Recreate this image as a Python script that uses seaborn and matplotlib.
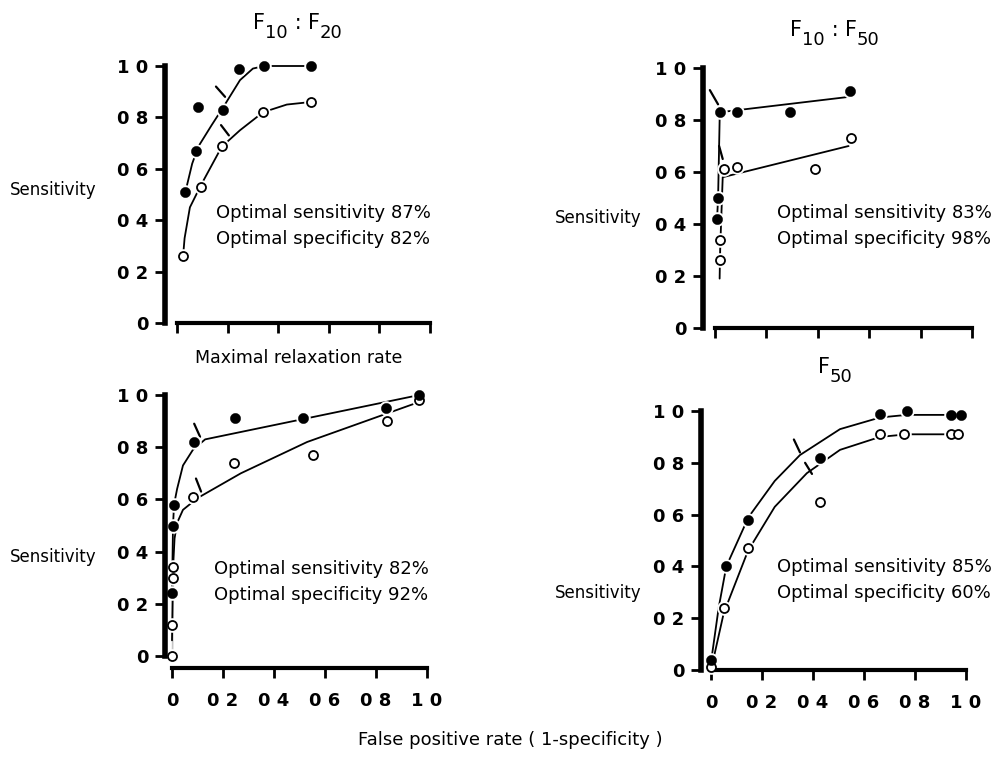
import matplotlib
matplotlib.use("Agg")
import matplotlib.pyplot as plt
import seaborn as sns
import pandas as pd

# ──────────────────────────────
# Data
# ──────────────────────────────

# F10:F20 (top left)
tl_filled_x = [0.03, 0.075, 0.083, 0.182, 0.245, 0.344, 0.53]
tl_filled_y = [0.51, 0.67, 0.84, 0.83, 0.99, 1.0, 1.0]
tl_open_x = [0.024, 0.095, 0.178, 0.34, 0.53]
tl_open_y = [0.26, 0.53, 0.69, 0.82, 0.86]
tl_fit_filled_x = [0.03, 0.038, 0.06, 0.084, 0.137, 0.183, 0.249, 0.30, 0.345, 0.53]
tl_fit_filled_y = [0.50, 0.53, 0.62, 0.686, 0.77, 0.84, 0.945, 0.99, 1.0, 1.0]
tl_fit_open_x = [0.024, 0.03, 0.051, 0.095, 0.177, 0.249, 0.34, 0.434, 0.53]
tl_fit_open_y = [0.26, 0.33, 0.45, 0.537, 0.686, 0.75, 0.82, 0.85, 0.86]
tl_marks = [((0.154, 0.92), (0.19, 0.88)), ((0.174, 0.77), (0.205, 0.73))]

# F10:F50 (top right)
tr_filled_x = [0.008, 0.01, 0.02, 0.086, 0.29, 0.525]
tr_filled_y = [0.42, 0.50, 0.83, 0.83, 0.83, 0.91]
tr_open_x = [0.02, 0.02, 0.035, 0.086, 0.39, 0.53]
tr_open_y = [0.26, 0.34, 0.61, 0.62, 0.61, 0.73]
tr_fit_filled_x = [0.008, 0.012, 0.018, 0.02, 0.53]
tr_fit_filled_y = [0.42, 0.50, 0.80, 0.83, 0.89]
tr_fit_open_x = [0.018, 0.02, 0.02, 0.03, 0.52]
tr_fit_open_y = [0.19, 0.26, 0.34, 0.58, 0.70]
tr_marks = [((-0.02, 0.915), (0.012, 0.86)), ((0.016, 0.70), (0.03, 0.65))]

# Maximal relaxation rate (bottom left)
bl_filled_x = [0.0, 0.004, 0.008, 0.086, 0.247, 0.513, 0.84, 0.97]
bl_filled_y = [0.24, 0.50, 0.58, 0.82, 0.91, 0.91, 0.95, 1.0]
bl_open_x = [0.0, 0.0, 0.004, 0.004, 0.082, 0.243, 0.553, 0.843, 0.97]
bl_open_y = [0.0, 0.12, 0.30, 0.34, 0.61, 0.74, 0.77, 0.90, 0.98]
bl_fit_filled_x = [0.0, 0.004, 0.008, 0.02, 0.043, 0.082, 0.13, 0.97]
bl_fit_filled_y = [0.24, 0.50, 0.58, 0.64, 0.73, 0.79, 0.83, 1.0]
bl_fit_open_x = [0.0, 0.0, 0.004, 0.004, 0.01, 0.02, 0.043, 0.10, 0.27, 0.53, 0.96]
bl_fit_open_y = [0.0, 0.12, 0.30, 0.37, 0.45, 0.51, 0.56, 0.605, 0.70, 0.82, 0.97]
bl_marks = [((0.087, 0.89), (0.11, 0.84)), ((0.094, 0.68), (0.114, 0.63))]

# F50 (bottom right)
br_filled_x = [0.0, 0.06, 0.147, 0.427, 0.663, 0.768, 0.94, 0.98]
br_filled_y = [0.04, 0.40, 0.58, 0.82, 0.99, 1.0, 0.985, 0.985]
br_open_x = [0.0, 0.05, 0.145, 0.427, 0.663, 0.757, 0.94, 0.97]
br_open_y = [0.01, 0.24, 0.47, 0.65, 0.91, 0.91, 0.91, 0.91]
br_fit_filled_x = [0.0, 0.03, 0.06, 0.147, 0.25, 0.349, 0.506, 0.663, 0.768, 0.94]
br_fit_filled_y = [0.03, 0.24, 0.40, 0.59, 0.73, 0.83, 0.93, 0.975, 0.985, 0.985]
br_fit_open_x = [0.0, 0.05, 0.145, 0.25, 0.376, 0.506, 0.663, 0.768, 0.97]
br_fit_open_y = [0.0, 0.22, 0.46, 0.63, 0.76, 0.85, 0.90, 0.91, 0.91]
br_marks = [((0.325, 0.89), (0.349, 0.84)), ((0.369, 0.80), (0.396, 0.757))]

y_ticks = [0, 0.2, 0.4, 0.6, 0.8, 1.0]
y_tick_labels = ["0", "0 2", "0 4", "0 6", "0 8", "1 0"]
x_ticks = [0, 0.2, 0.4, 0.6, 0.8, 1.0]
x_tick_labels = ["0", "0 2", "0 4", "0 6", "0 8", "1 0"]

# titles as (text, is_subscript) pieces
title_tl = [("F", False), ("10", True), (" : ", False), ("F", False), ("20", True)]
title_tr = [("F", False), ("10", True), (" : ", False), ("F", False), ("50", True)]
title_br = [("F", False), ("50", True)]
optimal_texts = ["Optimal sensitivity 87%\nOptimal specificity 82%",
                 "Optimal sensitivity 83%\nOptimal specificity 98%",
                 "Optimal sensitivity 82%\nOptimal specificity 92%",
                 "Optimal sensitivity 85%\nOptimal specificity 60%"]

# ──────────────────────────────
# Figure setup
# ──────────────────────────────
sns.set_style("ticks")
plt.rcParams['font.family'] = ['DejaVu Sans']
for key in ['text.color', 'axes.labelcolor', 'xtick.color', 'ytick.color',
            'axes.edgecolor']:
    plt.rcParams[key] = 'black'

W, H = 1003, 760
fig = plt.figure(figsize=(W / 100, H / 100), dpi=100)
renderer = fig.canvas.get_renderer()


def make_axes(x0, x1, y0, y1, spine_x, spine_y):
    # pixel positions of data 0/1 on each axis, plus where the spines sit
    ux = x1 - x0
    uy = y0 - y1
    xr, yt = 1.06, 1.06
    xl = (spine_x - x0) / ux
    yb = -(spine_y - y0) / uy
    left_px, right_px = spine_x, x0 + xr * ux
    bottom_px, top_px = spine_y, y0 - yt * uy
    ax = fig.add_axes([left_px / W, 1 - bottom_px / H,
                       (right_px - left_px) / W, (bottom_px - top_px) / H])
    ax.set_xlim(xl, xr)
    ax.set_ylim(yb, yt)
    return ax


def draw_panel(ax, fx, fy, ox, oy, cfx, cfy, cox, coy, marks, show_x):
    fit_f = pd.DataFrame({"x": cfx, "y": cfy})
    fit_o = pd.DataFrame({"x": cox, "y": coy})
    sns.lineplot(data=fit_f, x="x", y="y", sort=False, color="black",
                 linewidth=1.3, ax=ax)
    sns.lineplot(data=fit_o, x="x", y="y", sort=False, color="black",
                 linewidth=1.3, ax=ax)
    for (a, b) in marks:
        ax.plot([a[0], b[0]], [a[1], b[1]], color="black", linewidth=1.6)
    pts_o = pd.DataFrame({"x": ox, "y": oy})
    pts_f = pd.DataFrame({"x": fx, "y": fy})
    # white halo under the points so the fitted lines break around them
    for pts in (pts_o, pts_f):
        sns.scatterplot(data=pts, x="x", y="y", s=110, color="white",
                        linewidth=0, ax=ax, zorder=2.5, clip_on=False)
    sns.scatterplot(data=pts_o, x="x", y="y", s=42, facecolor="white",
                    edgecolor="black", linewidth=1.3, ax=ax, zorder=3,
                    clip_on=False)
    sns.scatterplot(data=pts_f, x="x", y="y", s=55, color="black",
                    edgecolor="black", linewidth=0.3, ax=ax, zorder=4,
                    clip_on=False)

    for side in ["top", "right"]:
        ax.spines[side].set_visible(False)
    ax.spines["left"].set_bounds(0, 1)
    ax.spines["bottom"].set_bounds(0, 1)
    ax.spines["left"].set_linewidth(4)
    ax.spines["bottom"].set_linewidth(3)
    ax.set_yticks(y_ticks)
    ax.set_yticklabels(y_tick_labels, fontsize=13, fontweight="bold")
    ax.set_xticks(x_ticks)
    if show_x:
        ax.set_xticklabels(x_tick_labels, fontsize=13, fontweight="bold")
    else:
        ax.set_xticklabels([])
    ax.tick_params(axis="y", direction="out", length=7, width=2, pad=5)
    ax.tick_params(axis="x", direction="out", length=7, width=2, pad=10)
    ax.set_xlabel("")
    ax.set_ylabel("")
    ax.patch.set_alpha(0)


def piece_title(cx, base_y, pieces):
    # lays out "F" + lowered subscript pieces centred on cx, main baseline at base_y (px)
    texts = []
    for s, sub in pieces:
        t = fig.text(0, 0, s, fontsize=13 if sub else 15, va="baseline",
                     ha="left")
        texts.append((t, sub))
    widths = [t.get_window_extent(renderer).width for t, _ in texts]
    x = cx - sum(widths) / 2
    for (t, sub), w in zip(texts, widths):
        base = base_y + (9 if sub else 0)
        t.set_position((x / W, 1 - base / H))
        x += w


ax_tl = make_axes(177, 430, 323, 66, 165, 323)
ax_tr = make_axes(715, 972, 328, 68, 703, 328)
ax_bl = make_axes(172, 427, 656, 395, 165, 668)
ax_br = make_axes(711, 966, 670, 411, 701, 670)

draw_panel(ax_tl, tl_filled_x, tl_filled_y, tl_open_x, tl_open_y,
           tl_fit_filled_x, tl_fit_filled_y, tl_fit_open_x, tl_fit_open_y,
           tl_marks, False)
draw_panel(ax_tr, tr_filled_x, tr_filled_y, tr_open_x, tr_open_y,
           tr_fit_filled_x, tr_fit_filled_y, tr_fit_open_x, tr_fit_open_y,
           tr_marks, False)
draw_panel(ax_bl, bl_filled_x, bl_filled_y, bl_open_x, bl_open_y,
           bl_fit_filled_x, bl_fit_filled_y, bl_fit_open_x, bl_fit_open_y,
           bl_marks, True)
draw_panel(ax_br, br_filled_x, br_filled_y, br_open_x, br_open_y,
           br_fit_filled_x, br_fit_filled_y, br_fit_open_x, br_fit_open_y,
           br_marks, True)

# titles, annotations and the shared labels (pixel positions / figure size)
piece_title(298, 29, title_tl)
piece_title(835, 36, title_tr)
piece_title(835, 373, title_br)
fig.text(299 / W, 1 - 358 / H, "Maximal relaxation rate", ha="center",
         va="center", fontsize=12.5)

text_pos = [(216, 226), (777, 226), (214, 582), (777, 580)]
ylab_pos = [(10, 190), (555, 218), (10, 557), (555, 593)]
for t, (px, py) in zip(optimal_texts, text_pos):
    fig.text(px / W, 1 - py / H, t, ha="left", va="center", fontsize=13,
             linespacing=1.5)
for (px, py) in ylab_pos:
    fig.text(px / W, 1 - py / H, "Sensitivity", ha="left", va="center",
             fontsize=12)
fig.text(510 / W, 1 - 740 / H, "False positive rate ( 1-specificity )",
         ha="center", va="center", fontsize=13)

fig.savefig("out.png", dpi=100)
